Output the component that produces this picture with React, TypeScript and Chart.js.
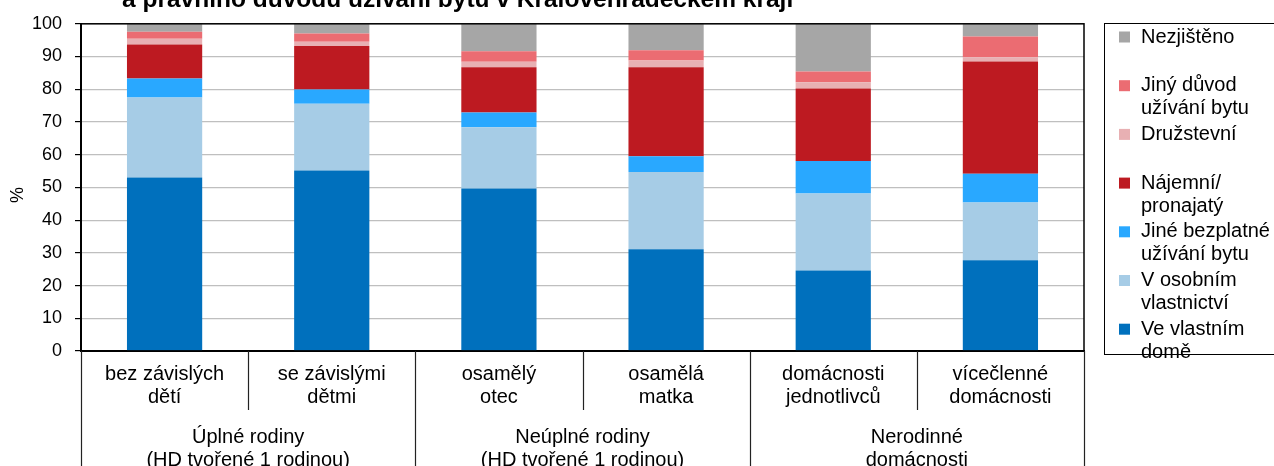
import React, { useEffect, useRef } from "react";
import { Chart, registerables } from "chart.js";

Chart.register(...registerables);

const categories: string[][] = [
  ["bez závislých", "dětí"],
  ["se závislými", "dětmi"],
  ["osamělý", "otec"],
  ["osamělá", "matka"],
  ["domácnosti", "jednotlivců"],
  ["vícečlenné", "domácnosti"],
];

const groups: { lines: string[]; from: number; to: number }[] = [
  { lines: ["Úplné rodiny", "(HD tvořené 1 rodinou)"], from: 0, to: 1 },
  { lines: ["Neúplné rodiny", "(HD tvořené 1 rodinou)"], from: 2, to: 3 },
  { lines: ["Nerodinné", "domácnosti"], from: 4, to: 5 },
];

const yTicks = [0, 10, 20, 30, 40, 50, 60, 70, 80, 90, 100];

const veVlastnimDome = [53.0, 55.2, 49.7, 31.1, 24.6, 27.7];
const vOsobnimVlastnictvi = [24.5, 20.4, 18.7, 23.6, 23.5, 17.7];
const jineBezplatne = [5.8, 4.3, 4.5, 4.8, 10.0, 8.8];
const najemni = [10.4, 13.3, 13.8, 27.2, 22.1, 34.3];
const druzstevni = [1.7, 1.3, 1.7, 2.1, 1.9, 1.3];
const jinyDuvod = [2.2, 2.5, 3.2, 3.1, 3.3, 6.3];
const nezjisteno = [2.4, 3.0, 8.4, 8.1, 14.6, 3.9];

const seriesNames: string[][] = [
  ["Ve vlastním", "domě"],
  ["V osobním", "vlastnictví"],
  ["Jiné bezplatné", "užívání bytu"],
  ["Nájemní/", "pronajatý"],
  ["Družstevní"],
  ["Jiný důvod", "užívání bytu"],
  ["Nezjištěno"],
];
const seriesData = [
  veVlastnimDome,
  vOsobnimVlastnictvi,
  jineBezplatne,
  najemni,
  druzstevni,
  jinyDuvod,
  nezjisteno,
];
const seriesColors = [
  "#0070BD",
  "#A6CCE6",
  "#29A8FF",
  "#BD1A21",
  "#E8B0B3",
  "#EB6C72",
  "#A6A6A6",
];

const titleText = "a právního důvodu užívání bytu v Královéhradeckém kraji";
const FONT = "'Liberation Sans', Arial, sans-serif";

const decorPlugin = {
  id: "decor",
  afterDraw(chart: any) {
    const ctx = chart.ctx;
    const area = chart.chartArea;
    const x = chart.scales.x;
    ctx.save();
    // title (cut off at top)
    ctx.fillStyle = "#000";
    ctx.font = `bold 24.5px ${FONT}`;
    ctx.textAlign = "left";
    ctx.textBaseline = "alphabetic";
    ctx.fillText(titleText, 122, 6.5);

    // plot frame
    ctx.strokeStyle = "#000";
    ctx.lineWidth = 1.5;
    ctx.strokeRect(area.left, area.top, area.right - area.left, area.bottom - area.top);

    // separators under axis
    const n = categories.length;
    const bounds: number[] = [];
    for (let i = 0; i <= n; i++) {
      if (i === 0) bounds.push(area.left);
      else if (i === n) bounds.push(area.right);
      else bounds.push((x.getPixelForValue(i - 1) + x.getPixelForValue(i)) / 2);
    }
    const groupEdges = new Set<number>([0]);
    groups.forEach((g) => groupEdges.add(g.to + 1));
    ctx.lineWidth = 1.2;
    ctx.strokeStyle = "#222";
    bounds.forEach((bx, i) => {
      const long = groupEdges.has(i);
      ctx.beginPath();
      ctx.moveTo(Math.round(bx) + 0.5, area.bottom);
      ctx.lineTo(Math.round(bx) + 0.5, long ? 470 : 410);
      ctx.stroke();
    });

    // group labels
    ctx.font = `20px ${FONT}`;
    ctx.textAlign = "center";
    ctx.textBaseline = "middle";
    groups.forEach((g) => {
      const cx = (bounds[g.from] + bounds[g.to + 1]) / 2;
      g.lines.forEach((l, j) => ctx.fillText(l, cx, 437 + j * 23));
    });

    // y axis title
    ctx.save();
    ctx.translate(18, 195);
    ctx.rotate(-Math.PI / 2);
    ctx.font = `18px ${FONT}`;
    ctx.fillText("%", 0, 0);
    ctx.restore();

    // legend
    ctx.lineWidth = 1;
    ctx.strokeStyle = "#000";
    ctx.strokeRect(1104.5, 23.5, 200, 331);
    ctx.font = `20px ${FONT}`;
    ctx.textAlign = "left";
    ctx.textBaseline = "middle";
    const order = [6, 5, 4, 3, 2, 1, 0];
    order.forEach((si, k) => {
      const cy = 37 + k * 48.7;
      ctx.fillStyle = seriesColors[si];
      ctx.fillRect(1119, cy - 5.5, 11, 11);
      ctx.fillStyle = "#000";
      seriesNames[si].forEach((l, j) => ctx.fillText(l, 1141, cy + j * 23));
    });
    ctx.restore();
  },
};

export default function App() {
  const ref = useRef<HTMLCanvasElement>(null);
  useEffect(() => {
    if (!ref.current) return;
    const chart = new Chart(ref.current, {
      type: "bar",
      data: {
        labels: categories,
        datasets: seriesData.map((d, i) => ({
          label: seriesNames[i].join(" "),
          data: d,
          backgroundColor: seriesColors[i],
          borderWidth: 0,
          barPercentage: 0.45,
          categoryPercentage: 1,
        })),
      },
      options: {
        responsive: false,
        animation: false,
        devicePixelRatio: 1,
        layout: { padding: { left: 0, right: 190, top: 22, bottom: 0 } },
        plugins: {
          legend: { display: false },
          title: { display: false },
          tooltip: { enabled: false },
        },
        scales: {
          x: {
            stacked: true,
            grid: { display: false, drawTicks: false },
            border: { display: true, color: "#000", width: 2 },
            ticks: {
              color: "#000",
              font: { family: FONT, size: 20, lineHeight: 1.15 },
              padding: 12,
              maxRotation: 0,
              autoSkip: false,
            },
            afterFit: (s: any) => {
              s.height = 115;
            },
          },
          y: {
            stacked: true,
            min: 0,
            max: 100,
            afterBuildTicks: (s: any) => {
              s.ticks = yTicks.map((v) => ({ value: v }));
            },
            grid: {
              color: "#BFBFBF",
              lineWidth: 1.2,
              tickColor: "#000",
              tickLength: 6,
              drawTicks: true,
            },
            border: { display: true, color: "#000", width: 2 },
            ticks: {
              color: "#000",
              font: { family: FONT, size: 18 },
              padding: 13,
            },
            afterFit: (s: any) => {
              s.width = 81;
            },
          },
        },
      },
      plugins: [decorPlugin],
    });
    return () => chart.destroy();
  }, []);
  return (
    <div style={{ position: "fixed", left: 0, top: 0, width: 1274, height: 466, background: "#fff" }}>
      <canvas ref={ref} width={1274} height={466} style={{ width: 1274, height: 466, display: "block" }} />
    </div>
  );
}
